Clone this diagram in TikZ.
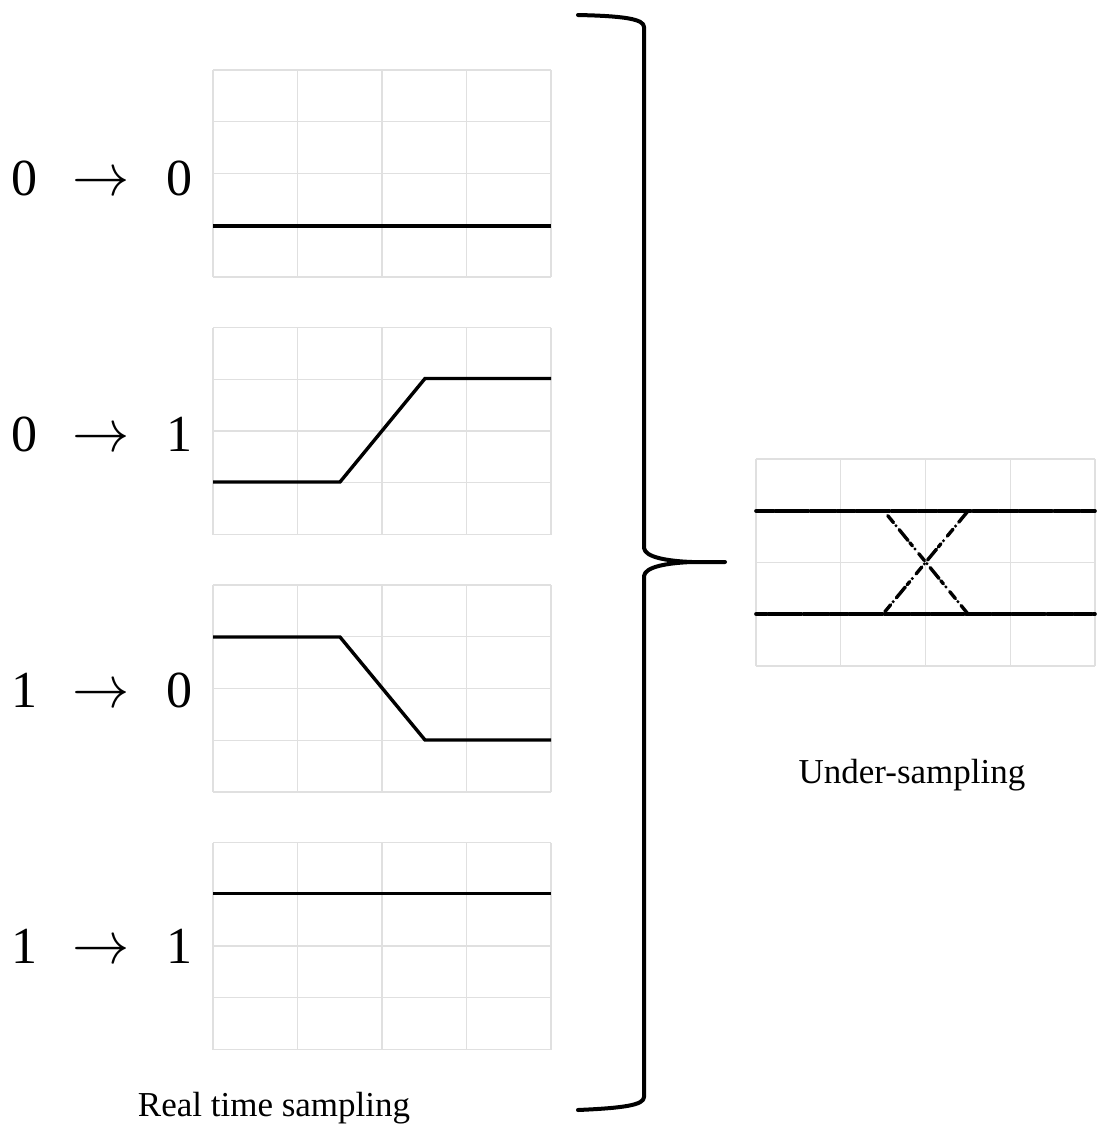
\documentclass[tikz,border=0pt]{standalone}
\usepackage{fix-cm}
\usepackage{graphicx}
\usepackage{fontspec}
\setmainfont{Liberation Serif}
\begin{document}
\begin{tikzpicture}[x=1pt,y=-1pt,
  gridline/.style={draw=black!12,line width=1.4pt},
  signal/.style={line width=3.4pt,line join=miter},
  sampled/.style={line width=3.6pt,line cap=round,
    dash pattern=on 18pt off 1.5pt on 7pt off 1pt on 25pt off 2pt on 10pt off 1.2pt on 14pt off 1.5pt},
  sampledx/.style={line width=3.4pt,line cap=round,
    dash pattern=on 0pt off 6pt on 9pt off 4pt on 0pt off 5pt on 14pt off 3pt on 4pt off 4pt},
  digit/.style={font=\fontsize{52}{60}\selectfont,anchor=base,inner sep=0pt},
  arrowsym/.style={font=\fontsize{52}{60}\selectfont,anchor=base,inner sep=0pt},
  caption/.style={font=\fontsize{35}{40}\selectfont,anchor=base,inner sep=0pt},
  bracestroke/.style={line width=4pt,line cap=round,line join=round}]
\useasboundingbox (0,0) rectangle (1097,1128);

% four real-time panels (4 x 4 cells)
\foreach \t in {70,327.5,585,842.5}{
  \foreach \i in {0,...,4}{
    \draw[gridline] (213+84.5*\i,\t) -- (213+84.5*\i,\t+207);
    \draw[gridline] (213,\t+51.75*\i) -- (551,\t+51.75*\i);
  }
}

% transition labels
\foreach \a/\b/\yb in {0/0/195,0/1/451,1/0/707,1/1/963}{
  \node[digit] (l\yb) at (25,\yb) {\a};
  \node[arrowsym] (m\yb) at (101,\yb) {\scalebox{1.1}[1.15]{$\rightarrow$}};
  \node[digit] (r\yb) at (179,\yb) {\b};
}

% waveforms
\draw[signal] (213,226) -- (551,226);
\draw[signal] (213,482) -- (340,482) -- (425,378.5) -- (551,378.5);
\draw[signal] (213,637) -- (340,637) -- (425,740) -- (551,740);
\draw[signal] (213,893.5) -- (551,893.5);

\node[caption] (rts) at (274,1116) {Real time sampling};

% brace
\coordinate (tip) at (725,562);
\draw[bracestroke] (578,15) .. controls (624,16) and (644,19) .. (644,27)
  -- (644,548) .. controls (645,557) and (666,561) .. (692,562) -- (tip)
  (tip) -- (692,562) .. controls (666,563) and (645,567) .. (644,576)
  -- (644,1097) .. controls (644,1105) and (624,1108) .. (578,1110);

% under-sampled panel
\foreach \i in {0,...,4}{
  \draw[gridline] (756+84.75*\i,459) -- (756+84.75*\i,666);
  \draw[gridline] (756,459+51.75*\i) -- (1095,459+51.75*\i);
}
\draw[sampled] (756,511) -- (1095,511);
\draw[sampled,dash phase=7pt] (756,614) -- (1095,614);
\draw[sampledx] (884,511) -- (968,614);
\draw[sampledx,dash phase=3pt] (883,614) -- (968,511);

\node[caption] (us) at (912,783) {Under-sampling};
\end{tikzpicture}
\end{document}
